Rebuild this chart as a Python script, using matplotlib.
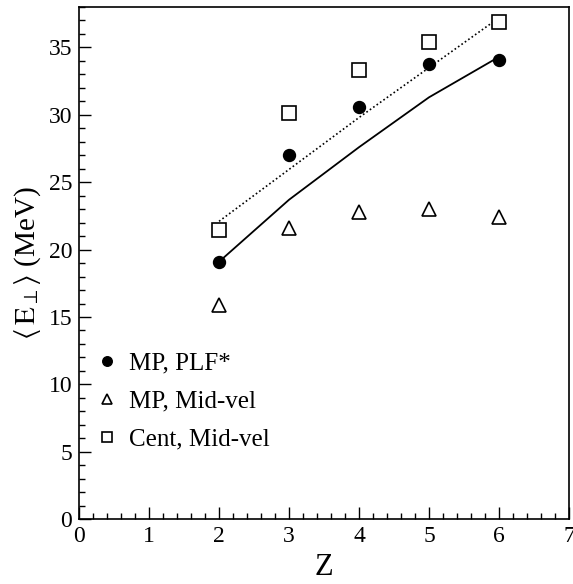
import matplotlib
matplotlib.use("Agg")
import matplotlib.pyplot as plt
from matplotlib.ticker import MultipleLocator

# charge of the fragment
z_vals = [2, 3, 4, 5, 6]

# mean transverse energy (MeV)
mp_plf = [19.05, 27.0, 30.6, 33.75, 34.1]
mp_midvel = [15.9, 21.6, 22.8, 23.0, 22.4]
cent_midvel = [21.45, 30.1, 33.3, 35.4, 36.9]

# model curves
solid_curve = [19.1, 23.7, 27.6, 31.3, 34.3]
dotted_curve = [22.1, 25.95, 29.8, 33.5, 37.2]

plt.rcParams['font.family'] = ['Liberation Serif', 'DejaVu Serif']
plt.rcParams['mathtext.fontset'] = 'stix'

fig = plt.figure(figsize=(5.73, 5.84), dpi=100)
ax = fig.add_axes([0.138, 0.111, 0.855, 0.877])

# curves
ax.plot(z_vals, solid_curve, color='black', lw=1.3, ls='-')
ax.plot(z_vals, dotted_curve, color='black', lw=1.2, ls=(0, (1, 1.5)))

# data points
ax.plot(z_vals, mp_plf, 'o', color='black', ms=8.6, label='MP, PLF*')
ax.plot(z_vals, mp_midvel, '^', mfc='white', mec='black', mew=1.2, ms=9.5,
        label='MP, Mid-vel')
ax.plot(z_vals, cent_midvel, 's', mfc='white', mec='black', mew=1.2, ms=9.5,
        label='Cent, Mid-vel')

ax.set_xlim(0, 7)
ax.set_ylim(0, 38)
ax.xaxis.set_major_locator(MultipleLocator(1))
ax.xaxis.set_minor_locator(MultipleLocator(0.2))
ax.yaxis.set_major_locator(MultipleLocator(5))
ax.yaxis.set_minor_locator(MultipleLocator(1))
ax.tick_params(which='both', direction='in', top=False, right=False,
               labelsize=17, width=1.0)
ax.tick_params(which='major', length=8.5, pad=5)
ax.tick_params(which='minor', length=4.3)
for sp in ax.spines.values():
    sp.set_linewidth(1.2)

ax.set_xlabel('Z', fontsize=22, labelpad=4)
ax.set_ylabel(r'$\langle\,\mathrm{E}_{\perp}\rangle$ (MeV)', fontsize=21, labelpad=4)

ax.legend(loc='upper left', bbox_to_anchor=(0.0, 0.36), frameon=False,
          fontsize=18, markerscale=0.8, handlelength=0.8, handletextpad=0.5,
          labelspacing=0.62, borderpad=0.2)

plt.savefig('out.png', dpi=100)
